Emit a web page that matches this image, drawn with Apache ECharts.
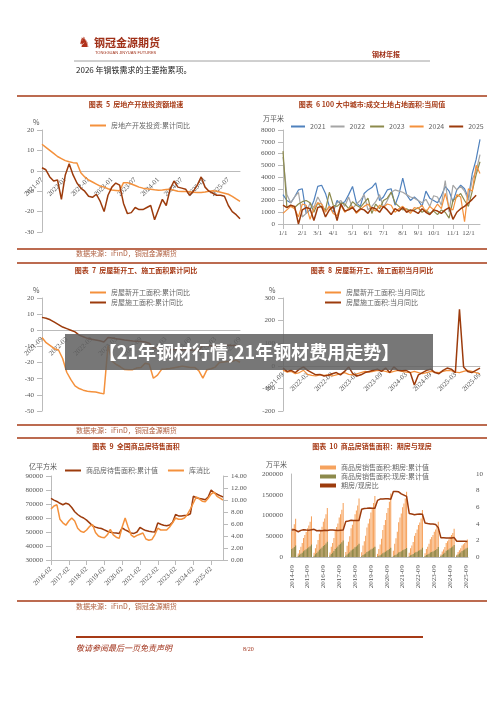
<!DOCTYPE html>
<html><head><meta charset="utf-8">
<script src="https://cdn.jsdelivr.net/npm/echarts@6/dist/echarts.min.js"></script>
<style>html,body{margin:0;padding:0;background:#fff}#c{width:500px;height:706px}</style>
</head><body><div id="c"></div>
<script>
// ---------- data ----------
// chart 5 (monthly from 2021-07)
const c5Invest = [13,11.5,10,8.5,7,6,5,4.4,4,3.8,-1,-3,-4.5,-5.5,-6.5,-7.5,-8,-8.8,-9.4,-9.6,-9.8,-5.8,-5.8,-6.5,-7.2,-8,-8.5,-8.8,-9,-9.3,-9.5,-9.4,-9.2,-9,-9.5,-10,-10.2,-10.1,-10.3,-10.5,-10.6,-10.6,-10.4,-10,-9.8,-10,-10.5,-11,-11.5,-12.5,-13.8,-15];
const c5Monthly = [1.5,0.5,-3,-5,-4.5,-14,-2,3.5,-2,-6,-8.5,-10,-12.5,-13,-11.5,-15,-20,-12,-8,-6,-7,-16,-21,-20.5,-18,-19,-19,-18,-17,-24,-19,-14,-17,-9,-5,-8,-8.5,-9,-12,-10,-7,-3,-8,-10,-11,-12,-12,-12.5,-17,-20,-21.5,-23.5];
// chart 6 (weekly)
const w2021 = [2500,2000,1800,2300,2900,3000,900,1200,2000,3200,3300,2600,1500,1000,2000,1700,1900,2500,3200,1800,1500,2600,2900,3100,3500,2000,2300,2900,3000,1600,2500,3900,2500,2000,2300,2000,1500,2800,2200,2000,1800,2400,3200,2800,1900,2900,3300,3000,2200,4300,5500,7200];
const w2022 = [5700,2500,1800,2300,2700,600,900,1800,1400,2300,1700,1100,1500,1300,1800,2000,1500,2300,1300,1700,2000,2500,1200,1500,1900,2500,1400,2000,2700,2900,2800,2700,2500,2300,2200,2000,1800,2100,1500,2400,2300,1600,3700,1000,3300,2900,3200,2800,2000,3800,4500,5900];
const w2023 = [6200,1400,1600,1400,1700,1900,2000,1800,1000,1800,1400,1200,2700,1600,1500,1800,1700,1300,1900,1600,1400,1800,2200,900,1700,1300,2000,2200,2700,1800,1500,1200,1300,1100,1200,1400,1000,1200,900,1100,800,1200,1000,500,2000,2300,2600,2000,1500,2800,4200,5300];
const w2024 = [900,1200,1500,1300,600,1700,1600,400,1300,1800,1700,1000,1500,900,700,1600,1000,1300,1500,900,1200,1500,1700,1300,1100,1600,1400,1700,1600,1000,1300,1500,1200,900,1400,1300,1600,1000,1500,1200,1700,1300,2600,1400,1200,2500,2300,200,3000,2800,5000,4300];
const w2025 = [1600,1400,1600,1500,0,1200,1400,1300,300,1400,1500,600,1200,1500,300,1700,1100,1200,1400,1000,1300,1200,900,1400,1300,1000,1500,1200,800,1300,1100,1400,1000,1200,1100,900,1300,1000,800,1200,1100,900,1200,1400,400,1000,1300,1500,1800,2100,2450];
// chart 7 (monthly from 2021-09)
const c7Start = [-4.5,-7.7,-9.5,-11.4,-12.2,-17.5,-26,-30.6,-34.4,-36.1,-37.1,-37.8,-38,-38.2,-38.9,-39.4,-9.4,-19.2,-21.2,-22.6,-24.3,-24.5,-24.4,-23.4,-23,-20.4,-21,-29.7,-27.8,-24.2,-24,-23.7,-23.2,-22.7,-22.2,-22.6,-23,-23,-25,-29.6,-24.4,-23.8,-22.8,-20,-19.6,-19.4,-19.3,-18.5,-19.8];
const c7Const = [8,7.5,6.5,5,3.5,2,1,0,-1,-3,-4,-5,-5.5,-6,-6.5,-7.2,-4.5,-4.8,-5.2,-5.6,-6,-6.3,-6.6,-6.8,-7,-7.2,-8,-11,-11.2,-11.6,-12,-12.1,-12,-12,-12.2,-12,-12.3,-12.3,-12.5,-9.2,-9.5,-9.6,-9.7,-9,-9.2,-9.3,-9.4,-9.4,-9.5];
// chart 8 (monthly from 2021-09)
const c8Start = [-20,-28,-25,-35,-30,-20,-38,-42,-45,-40,-42,-40,-45,-40,-35,-30,-38,-40,-35,-30,-25,-28,-25,-20,-22,-25,-30,-25,-20,-25,-28,-30,-25,-30,-35,-30,-25,-28,-30,-25,-20,-22,-28,-30,-25,-20,-25,-30,-35];
const c8Const = [-10,-25,-20,-30,-15,-5,-20,-30,-40,-38,-45,-42,-35,-30,-40,-25,-5,-35,-45,-40,-30,-25,-20,-15,-25,-10,-30,-5,-20,-22,-20,-30,-85,-40,-30,-20,-15,-30,-35,-20,-10,-15,-30,250,-5,-25,-30,-20,-10];
// chart 9 (every 2 months from 2016-02)
const c9Stock = [74000,72800,71800,70500,69500,70500,69800,67500,64500,62500,61000,60000,58500,56500,54500,53500,52800,52500,51500,50500,49800,49500,49300,49000,53000,51500,50500,49300,49000,50000,53200,52000,51000,50500,50200,50000,56500,55500,54800,54500,55000,57000,62500,61500,61500,61800,62000,63000,75500,74500,74000,73500,73000,75000,80000,78000,77000,76000,75000];
const c9Ratio = [8.5,9.0,9.2,6.8,6.2,5.8,6.5,7.0,6.5,5.3,4.8,4.6,5.0,5.6,5.9,4.6,4.0,3.8,3.7,4.2,5.1,4.2,3.8,3.6,5.5,7.0,5.5,4.2,3.8,4.1,4.3,4.5,3.5,3.3,3.4,4.2,5.3,5.0,5.0,5.0,5.5,6.2,7.0,6.8,6.8,7.0,7.6,8.5,9.5,10.5,10.2,9.8,9.7,10.3,11.0,11.3,10.6,10.3,10.0];
// chart 10 (monthly from 2014-09), cumulative sales area
const qf2014=[62000,70000,79000,92000];
const qf2015=[null,8500,17000,25000,34000,46000,53000,60000,69000,76000,85000,98000];
const qf2016=[null,10000,21000,30000,41000,56000,64000,73000,85000,93000,103000,118000];
const qf2017=[null,11000,25000,34000,46000,63000,72000,81000,95000,103000,114000,130000];
const qf2018=[null,12000,27000,37000,50000,69000,78000,88000,103000,112000,124000,141000];
const qf2019=[null,11500,28000,38000,51000,71000,81000,92000,107000,117000,130000,147000];
const qf2020=[null,7500,19000,30000,44000,65000,77000,89000,106000,118000,133000,153000];
const qf2021=[null,15000,32000,45000,61000,84000,95000,105000,120000,129000,141000,157000];
const qf2022=[null,10500,21000,28000,36000,51000,58000,66000,77000,83000,93000,113000];
const qf2023=[null,9000,19000,25000,32000,43000,48000,53000,61000,66000,73000,85000];
const qf2024=[null,6000,13000,18000,24000,34000,38000,42000,49000,53000,58000,68000];
const qf2025=[null,5500,12000,16000,21000,28000,31000,34000,39000,42000];
const xf2014=[19000,21000,24000,28000];
const xf2015=[null,2800,5500,7800,10500,14000,16000,18500,21000,23500,26000,30000];
const xf2016=[null,3000,6500,9500,13000,17500,20000,23000,26500,29000,32500,37000];
const xf2017=[null,3400,7500,10500,14500,19500,22500,25500,29500,32000,35500,40000];
const xf2018=[null,2800,6200,8500,11500,15600,17800,20000,23400,25500,28200,32000];
const xf2019=[null,2000,4800,6500,8700,12100,13800,15600,18200,19900,22000,25000];
const xf2020=[null,1100,2800,4300,6300,9300,11000,12700,15100,16800,19000,22000];
const xf2021=[null,1900,4100,5700,7800,10700,12300,13800,16000,17300,19200,21500];
const xf2022=[null,2000,4000,5400,7000,10000,11300,12800,14900,16000,18000,22000];
const xf2023=[null,2200,4700,6200,8000,10800,12000,13300,15300,16900,19500,24000];
const xf2024=[null,2600,5600,7800,10400,14800,16500,18300,21300,23000,25300,29000];
const xf2025=[null,2900,6300,8400,11000,14700,16300,18000,20700,22300];

// ---------- helpers ----------
function months(y,m,n,step){const a=[];for(let i=0;i<n;i++){const t=(m-1)+i*(step||1);a.push((y+Math.floor(t/12))+'-'+String(t%12+1).padStart(2,'0'));}return a;}
const cat5 = months(2021,7,c5Invest.length);
const cat7 = months(2021,9,c7Start.length);
const cat9 = months(2016,2,c9Stock.length,2);
const qf = [].concat(qf2014,qf2015,qf2016,qf2017,qf2018,qf2019,qf2020,qf2021,qf2022,qf2023,qf2024,qf2025);
const xf = [].concat(xf2014,xf2015,xf2016,xf2017,xf2018,xf2019,xf2020,xf2021,xf2022,xf2023,xf2024,xf2025);
const ratio10 = qf.map((v,i)=>v==null?null:+(v/xf[i]).toFixed(2));
const cat10 = months(2014,9,qf.length);
const cat6=[]; for(let i=0;i<52;i++){const d=new Date(2025,0,1+7*i);cat6.push((d.getMonth()+1)+'/'+d.getDate());}

const OR='#f4913c', BR='#9c3b0c', TITLE='#a63a16';
const F='"Noto Sans CJK SC", sans-serif';
const axTxt={fontSize:7,color:'#555',fontFamily:'Liberation Serif, serif',formatter:v=>String(v)};
function valAx(grid,min,max,iv,extra){return Object.assign({type:'value',gridIndex:grid,min,max,interval:iv,splitLine:{show:false},axisLine:{show:true,lineStyle:{color:'#bbb'}},axisTick:{show:true,lineStyle:{color:'#bbb'}},axisLabel:axTxt},extra||{});}
function catAx(grid,data,extra){return Object.assign({type:'category',gridIndex:grid,data,boundaryGap:false,axisLine:{show:true,onZero:false,lineStyle:{color:'#bbb'}},axisTick:{show:false},axisLabel:Object.assign({},axTxt)},extra||{});}
function line(name,x,y,data,color,w){return {name,type:'line',xAxisIndex:x,yAxisIndex:y,data,symbol:'none',connectNulls:true,lineStyle:{color,width:w||1.5},itemStyle:{color}};}
const legTxt={fontSize:7,color:'#666',fontFamily:F};
function leg(names,left,top,orient,extra){return Object.assign({data:names,left,top,orient:orient||'horizontal',itemWidth:16,itemHeight:2,itemGap:4,textStyle:legTxt,icon:'rect'},extra||{});}

const tick6 = (i,v)=>{const d=+v.split('/')[1];return d<=7;};
const rotLab = Object.assign({},axTxt,{rotate:45,interval:5});

// grid geometry
const G5={left:42,top:130,width:198,height:102}, G7={left:42,top:298,width:198,height:113}, G8={left:283,top:298,width:197,height:113};
const zeroOff=(g,min,max)=>-(g.height*(-min)/(max-min));

const option={
  animation:false,
  grid:[
    G5,
    {left:283,top:130,width:197,height:94},
    G7,
    G8,
    {left:51,top:476,width:172,height:84},
    {left:291,top:474,width:177,height:83}
  ],
  xAxis:[
    catAx(0,cat5,{axisLabel:rotLab,offset:zeroOff(G5,-30,20)}),
    catAx(1,cat6,{axisLabel:Object.assign({},axTxt,{interval:tick6,formatter:v=>v.split('/')[0]+'/1',margin:6}),axisTick:{show:true,interval:tick6,lineStyle:{color:'#bbb'}}}),
    catAx(2,cat7,{axisLabel:rotLab,offset:zeroOff(G7,-50,20)}),
    catAx(3,cat7,{axisLabel:rotLab,offset:zeroOff(G8,-200,300)}),
    catAx(4,cat9,{axisLabel:rotLab,axisTick:{show:true,interval:5,lineStyle:{color:'#bbb'}}}),
    catAx(5,cat10,{boundaryGap:true,axisLabel:Object.assign({},axTxt,{rotate:90,interval:11}),axisTick:{show:false}})
  ],
  yAxis:[
    valAx(0,-30,20,10),
    valAx(1,0,8000,1000),
    valAx(2,-50,20,10),
    valAx(3,-200,300,100),
    valAx(4,30000,90000,10000),
    valAx(4,0,14,2,{position:'right',axisLabel:Object.assign({},axTxt,{formatter:v=>v.toFixed(2)})}),
    valAx(5,0,200000,50000,{axisTick:{show:false}}),
    valAx(5,0,10,2,{position:'right',axisLine:{show:false},axisTick:{show:false}})
  ],
  legend:[
    leg(['房地产开发投资:累计同比'],85,117),
    leg(['2021','2022','2023','2024','2025'],286,118,'horizontal',{itemGap:5,itemWidth:14}),
    leg(['房屋新开工面积:累计同比','房屋施工面积:累计同比'],85,284,'vertical',{itemGap:3}),
    leg(['房屋新开工面积:当月同比','房屋施工面积:当月同比'],320,284,'vertical',{itemGap:3}),
    leg(['商品房待售面积:累计值','库消比'],60,462,'horizontal',{itemGap:10}),
    leg(['商品房销售面积:期房:累计值','商品房销售面积:现房:累计值','期房/现房比'],315,459,'vertical',{itemGap:2,itemHeight:4})
  ],
  series:[
    line('房地产开发投资:累计同比',0,0,c5Invest,OR),
    line('房地产开发投资:当月同比',0,0,c5Monthly,BR),
    line('2021',1,1,w2021,'#4f81bd',1.2),
    line('2022',1,1,w2022,'#a5a5a5',1.2),
    line('2023',1,1,w2023,'#8c8a4c',1.2),
    line('2024',1,1,w2024,OR,1.2),
    line('2025',1,1,w2025,BR,1.5),
    line('房屋新开工面积:累计同比',2,2,c7Start,OR),
    line('房屋施工面积:累计同比',2,2,c7Const,BR),
    line('房屋新开工面积:当月同比',3,3,c8Start,OR,1.2),
    line('房屋施工面积:当月同比',3,3,c8Const,BR,1.5),
    line('商品房待售面积:累计值',4,4,c9Stock,BR),
    line('库消比',4,5,c9Ratio,OR),
    {name:'商品房销售面积:期房:累计值',type:'bar',xAxisIndex:5,yAxisIndex:6,data:qf,barWidth:'80%',itemStyle:{color:'#f6a35e'}},
    {name:'商品房销售面积:现房:累计值',type:'bar',xAxisIndex:5,yAxisIndex:6,data:xf,barWidth:'80%',barGap:'-100%',itemStyle:{color:'#8c8a4c'}},
    line('期房/现房比',5,7,ratio10,BR,1.5)
  ],
  graphic:[
    {type:'text',left:94,top:37,style:{text:'钢冠金源期货',font:'bold 11px '+F,fill:'#a03018'}},
    {type:'text',left:95,top:51,style:{text:'TONGGUAN JINYUAN FUTURES',font:'4px sans-serif',fill:'#a03018'}},
    {type:'text',left:78,top:36,style:{text:'♞',font:'14px sans-serif',fill:'#b0301a'}},
    {type:'text',left:372,top:51,style:{text:'钢材年报',font:'bold 7px '+F,fill:'#a03018'}},
    {type:'line',shape:{x1:74,y1:61,x2:430,y2:61},style:{stroke:'#888',lineWidth:0.8}},
    {type:'text',left:76,top:66,style:{text:'2026 年钢铁需求的主要拖累项。',font:'8px '+F,fill:'#222'}},
    {type:'line',shape:{x1:17,y1:96,x2:487,y2:96},style:{stroke:'#a63a16',lineWidth:1.5}},
    {type:'text',x:136,y:104,style:{text:'图表  5  房地产开放投资额增速',font:'bold 7px '+F,fill:TITLE,align:'center',verticalAlign:'middle'}},
    {type:'text',x:372,y:104,style:{text:'图表  6 100 大中城市:成交土地占地面积:当周值',font:'bold 7px '+F,fill:TITLE,align:'center',verticalAlign:'middle'}},
    {type:'text',left:33,top:119,style:{text:'%',font:'7px '+F,fill:'#555'}},
    {type:'text',left:263,top:115,style:{text:'万平米',font:'7px '+F,fill:'#555'}},
    {type:'line',shape:{x1:17,y1:249,x2:487,y2:249},style:{stroke:'#a63a16',lineWidth:1.5}},
    {type:'text',left:76,top:250,style:{text:'数据来源：iFinD，铜冠金源期货',font:'7px '+F,fill:'#b06040'}},
    {type:'line',shape:{x1:17,y1:263,x2:487,y2:263},style:{stroke:'#a63a16',lineWidth:1.5}},
    {type:'text',x:136,y:270,style:{text:'图表  7  房屋新开工、施工面积累计同比',font:'bold 7px '+F,fill:TITLE,align:'center',verticalAlign:'middle'}},
    {type:'text',x:372,y:270,style:{text:'图表  8  房屋新开工、施工面积当月同比',font:'bold 7px '+F,fill:TITLE,align:'center',verticalAlign:'middle'}},
    {type:'text',left:33,top:287,style:{text:'%',font:'7px '+F,fill:'#555'}},
    {type:'text',left:269,top:287,style:{text:'%',font:'7px '+F,fill:'#555'}},
    {type:'line',shape:{x1:17,y1:425,x2:487,y2:425},style:{stroke:'#a63a16',lineWidth:1.5}},
    {type:'text',left:76,top:427,style:{text:'数据来源：iFinD，铜冠金源期货',font:'7px '+F,fill:'#b06040'}},
    {type:'line',shape:{x1:17,y1:438,x2:487,y2:438},style:{stroke:'#a63a16',lineWidth:1.5}},
    {type:'text',x:136,y:446,style:{text:'图表  9  全国商品房待售面积',font:'bold 7px '+F,fill:TITLE,align:'center',verticalAlign:'middle'}},
    {type:'text',x:372,y:446,style:{text:'图表  10  商品房销售面积：期房与现房',font:'bold 7px '+F,fill:TITLE,align:'center',verticalAlign:'middle'}},
    {type:'text',left:29,top:463,style:{text:'亿平方米',font:'7px '+F,fill:'#555'}},
    {type:'text',left:266,top:461,style:{text:'万平米',font:'7px '+F,fill:'#555'}},
    {type:'line',shape:{x1:17,y1:601,x2:487,y2:601},style:{stroke:'#a63a16',lineWidth:1.5}},
    {type:'text',left:76,top:603,style:{text:'数据来源：iFinD，铜冠金源期货',font:'7px '+F,fill:'#b06040'}},
    {type:'line',shape:{x1:76,y1:637,x2:423,y2:637},style:{stroke:'#a63a16',lineWidth:2}},
    {type:'text',left:76,top:644,style:{text:'敬请参阅最后一页免责声明',font:'italic 8px '+F,fill:'#a03018'}},
    {type:'text',left:243,top:646,style:{text:'8/20',font:'6px serif',fill:'#a03018'}},
    {type:'rect',shape:{x:65,y:334,width:368,height:36},style:{fill:'rgba(95,95,95,0.85)'},z:100},
    {type:'text',x:249,y:352,z:101,style:{text:'【21年钢材行情,21年钢材费用走势】',font:'bold 18px '+F,fill:'#fff',align:'center',verticalAlign:'middle'}}
  ]
};
const ch=echarts.init(document.getElementById('c'),null,{renderer:'canvas'});
ch.setOption(option);
</script></body></html>
